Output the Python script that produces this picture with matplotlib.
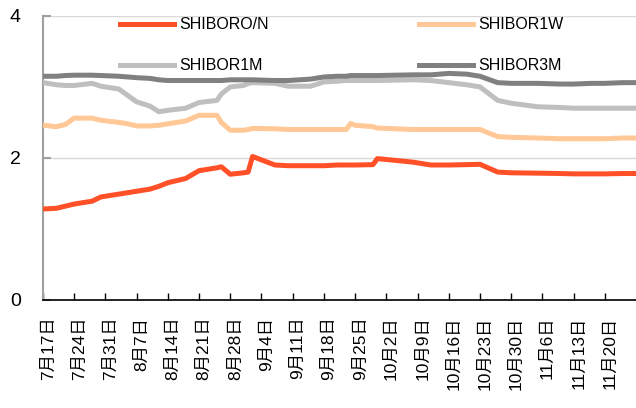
"""SHIBOR overnight / 1W / 1M / 3M rates, Jul-Nov 2015."""

import pandas as pd
import matplotlib
matplotlib.use("Agg")
import matplotlib.pyplot as plt
import matplotlib.transforms as mtransforms

plt.rcParams["font.family"] = ["Liberation Sans", "Noto Sans CJK SC", "DejaVu Sans"]

dates = [
    "2015-07-17", "2015-07-20", "2015-07-22", "2015-07-24", "2015-07-28",
    "2015-07-30", "2015-08-03", "2015-08-05", "2015-08-07", "2015-08-10",
    "2015-08-12", "2015-08-14", "2015-08-18", "2015-08-21", "2015-08-25",
    "2015-08-26", "2015-08-28", "2015-08-31", "2015-09-01", "2015-09-02",
    "2015-09-07", "2015-09-10", "2015-09-15", "2015-09-18", "2015-09-21",
    "2015-09-23", "2015-09-24", "2015-09-25", "2015-09-29", "2015-09-30",
    "2015-10-08", "2015-10-12", "2015-10-16", "2015-10-20", "2015-10-23",
    "2015-10-27", "2015-10-30", "2015-11-05", "2015-11-10", "2015-11-13",
    "2015-11-17", "2015-11-20", "2015-11-24", "2015-11-27",
]

shibor_on = [
    1.28, 1.29, 1.32, 1.35, 1.39, 1.45, 1.49, 1.51, 1.53, 1.56,
    1.60, 1.65, 1.71, 1.82, 1.86, 1.875, 1.77, 1.79, 1.80, 2.02,
    1.90, 1.89, 1.89, 1.89, 1.90, 1.90, 1.90, 1.90, 1.905, 1.99,
    1.94, 1.90, 1.90, 1.905, 1.91, 1.80, 1.79, 1.785, 1.78, 1.775,
    1.775, 1.775, 1.78, 1.78,
]
shibor_1w = [
    2.46, 2.44, 2.47, 2.56, 2.56, 2.53, 2.50, 2.48, 2.45, 2.45,
    2.46, 2.48, 2.52, 2.60, 2.60, 2.50, 2.39, 2.39, 2.40, 2.415,
    2.41, 2.40, 2.40, 2.40, 2.40, 2.40, 2.485, 2.46, 2.44, 2.42,
    2.40, 2.40, 2.40, 2.40, 2.40, 2.30, 2.29, 2.28, 2.27, 2.27,
    2.27, 2.27, 2.28, 2.28,
]
shibor_1m = [
    3.06, 3.03, 3.02, 3.02, 3.05, 3.01, 2.97, 2.88, 2.79, 2.73,
    2.65, 2.67, 2.70, 2.78, 2.81, 2.90, 3.00, 3.02, 3.05, 3.06,
    3.05, 3.01, 3.01, 3.07, 3.08, 3.09, 3.09, 3.09, 3.09, 3.09,
    3.10, 3.09, 3.06, 3.03, 3.00, 2.81, 2.77, 2.72, 2.71, 2.70,
    2.70, 2.70, 2.70, 2.70,
]
shibor_3m = [
    3.15, 3.15, 3.16, 3.165, 3.165, 3.16, 3.15, 3.14, 3.13, 3.12,
    3.10, 3.09, 3.09, 3.09, 3.09, 3.09, 3.10, 3.10, 3.10, 3.10,
    3.09, 3.09, 3.11, 3.14, 3.15, 3.15, 3.16, 3.16, 3.16, 3.16,
    3.17, 3.17, 3.19, 3.18, 3.15, 3.06, 3.05, 3.05, 3.04, 3.04,
    3.05, 3.05, 3.06, 3.06,
]

tick_dates = pd.date_range("2015-07-17", periods=19, freq="7D")
tick_labels = [
    "7月17日", "7月24日", "7月31日", "8月7日", "8月14日", "8月21日",
    "8月28日", "9月4日", "9月11日", "9月18日", "9月25日", "10月2日",
    "10月9日", "10月16日", "10月23日", "10月30日", "11月6日", "11月13日",
    "11月20日",
]


def display(outfile="out.png"):
    x = pd.to_datetime(dates)
    fig = plt.figure(figsize=(6.36, 4.08), dpi=100)
    ax = fig.add_axes([0.0676, 0.265, 0.9324, 0.696])

    ax.plot(x, shibor_on, color="#FF5028", lw=3.6, label="SHIBORO/N", zorder=5)
    ax.plot(x, shibor_1w, color="#FFC896", lw=3.6, label="SHIBOR1W", zorder=4)
    ax.plot(x, shibor_1m, color="#BFBFBF", lw=3.6, label="SHIBOR1M", zorder=3)
    ax.plot(x, shibor_3m, color="#808080", lw=3.6, label="SHIBOR3M", zorder=3)

    ax.set_ylim(0, 4)
    ax.set_yticks([0, 2, 4])
    ax.set_xlim(pd.Timestamp("2015-07-17"), pd.Timestamp("2015-11-27"))
    ax.set_xticks(tick_dates)
    ax.set_xticklabels(tick_labels, rotation=90, va="top", ha="center",
                       fontsize=12.5)

    ax.grid(axis="y", color="#D9D9D9", lw=1)
    ax.set_axisbelow(True)
    for s in ("top", "right"):
        ax.spines[s].set_visible(False)
    ax.spines["left"].set_color("#A0A0A0")
    ax.spines["left"].set_linewidth(1.5)
    ax.spines["bottom"].set_color("black")
    ax.spines["bottom"].set_linewidth(1.2)

    ax.tick_params(axis="x", direction="in", length=5, width=1, color="black",
                   pad=12)
    ax.tick_params(axis="y", direction="in", length=6, width=1.5,
                   color="#A0A0A0", labelsize=14, pad=16)

    # labels sit a little to the right of their ticks in the original
    shift = mtransforms.ScaledTranslation(5 / 100, 0, fig.dpi_scale_trans)
    for tick in ax.xaxis.get_major_ticks():
        tick.label1.set_transform(tick.label1.get_transform() + shift)

    h, l = ax.get_legend_handles_labels()
    order = [0, 2, 1, 3]
    fig.legend([h[i] for i in order], [l[i] for i in order], ncol=2,
               loc="upper left", bbox_to_anchor=(0.1887, 0.958),
               frameon=False, fontsize=11.5, borderpad=0, borderaxespad=0,
               handlelength=3.4, handletextpad=0.3, columnspacing=9.4,
               labelspacing=1.65)

    plt.savefig(outfile, dpi=100)
    plt.close()


if __name__ == "__main__":
    display()
